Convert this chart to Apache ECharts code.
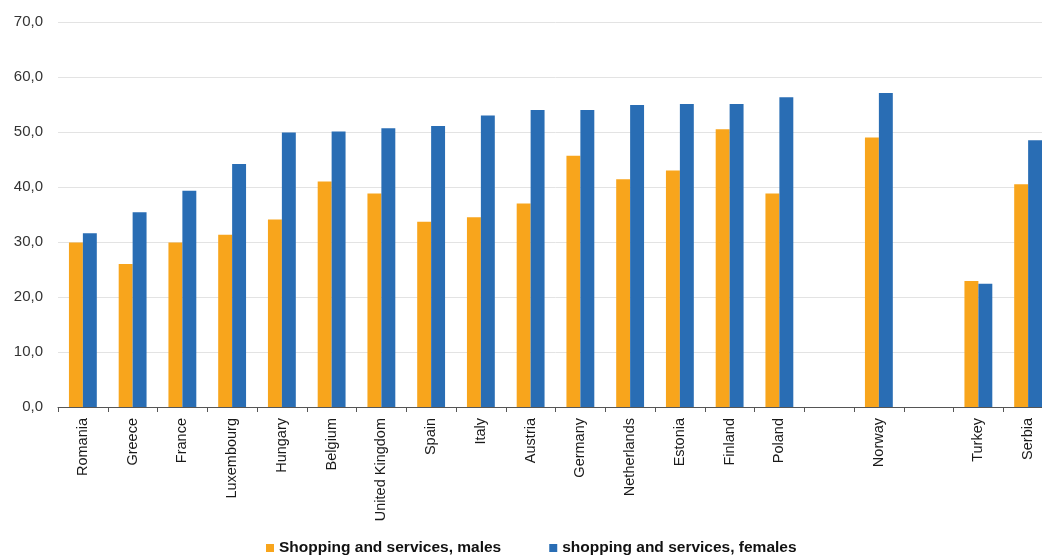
<!DOCTYPE html>
<html>
<head>
<meta charset="utf-8">
<script src="https://cdn.jsdelivr.net/npm/echarts@6/dist/echarts.min.js"></script>
<style>
  html, body { margin: 0; padding: 0; background: #ffffff; overflow: hidden; }
  /* the drawing is a little wider than the window, so the last group is cut off */
  #chart { width: 1053px; height: 556px; }
</style>
</head>
<body>
<div id="chart"></div>
<script>
// Countries (empty names are spacer slots between country groups)
const categories = ['Romania', 'Greece', 'France', 'Luxembourg', 'Hungary', 'Belgium',
  'United Kingdom', 'Spain', 'Italy', 'Austria', 'Germany', 'Netherlands', 'Estonia',
  'Finland', 'Poland', '', 'Norway', '', 'Turkey', 'Serbia'];

// Share of time spent on shopping and services (%)
const males = [29.9, 26.0, 29.9, 31.3, 34.1, 41.0, 38.8, 33.7, 34.5, 37.0, 45.7, 41.4, 43.0,
  50.5, 38.8, null, 49.0, null, 22.9, 40.5];
const females = [31.6, 35.4, 39.3, 44.2, 49.9, 50.1, 50.7, 51.1, 53.0, 54.0, 54.0, 54.9, 55.1,
  55.1, 56.3, null, 57.1, null, 22.4, 48.5];

const seriesNames = ['Shopping and services, males', 'shopping and services, females'];
const yTicks = { min: 0, max: 70, step: 10 };

const font = '"Liberation Sans", Arial, sans-serif';
const chart = echarts.init(document.getElementById('chart'), null, { renderer: 'canvas' });

chart.setOption({
  animation: false,
  backgroundColor: '#ffffff',
  color: ['#f8a51c', '#296db4'],
  textStyle: { fontFamily: font },
  grid: { left: 58, right: 0, top: 22, bottom: 149, containLabel: false },
  legend: {
    top: 535,
    left: 261,
    itemWidth: 8,
    itemHeight: 8,
    itemGap: 48,
    icon: 'rect',
    textStyle: { fontFamily: font, fontSize: 15.5, fontWeight: 'bold', color: '#111' },
    data: seriesNames
  },
  xAxis: {
    type: 'category',
    data: categories,
    axisLine: { lineStyle: { color: '#555', width: 1 } },
    axisTick: { show: true, length: 5, lineStyle: { color: '#555' } },
    axisLabel: {
      rotate: 90,
      interval: 0,
      margin: 11,
      fontSize: 14.5,
      color: '#1a1a1a',
      fontFamily: font
    }
  },
  yAxis: {
    type: 'value',
    min: yTicks.min,
    max: yTicks.max,
    interval: yTicks.step,
    axisLine: { show: false },
    axisTick: { show: false },
    splitLine: { lineStyle: { color: '#e3e3e3', width: 1 } },
    axisLabel: {
      margin: 15,
      fontSize: 15,
      color: '#333',
      fontFamily: font,
      formatter: v => v.toFixed(1).replace('.', ',')
    }
  },
  series: [
    { name: seriesNames[0], type: 'bar', data: males, barGap: '0%', barCategoryGap: '44%' },
    { name: seriesNames[1], type: 'bar', data: females, barGap: '0%', barCategoryGap: '44%' }
  ]
});
</script>
</body>
</html>
